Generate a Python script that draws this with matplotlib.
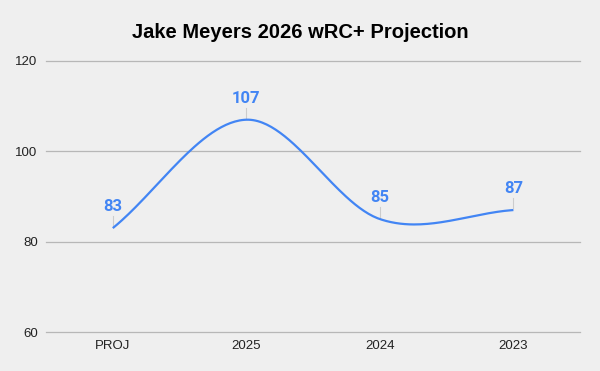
import numpy as np
import matplotlib
matplotlib.use("Agg")
import matplotlib.pyplot as plt

# chart data
seasons = ["PROJ", "2025", "2024", "2023"]
wrc_plus = [83, 107, 85, 87]

bg = "#efefef"
blue = "#4285f4"

fig = plt.figure(figsize=(6, 3.71), dpi=100, facecolor=bg)
ax = fig.add_axes([0.0767, 0.1051, 0.8903, 0.7305], facecolor=bg)

# smooth curve through the points (Catmull-Rom, like the sheets "smooth" option)
x = np.arange(len(wrc_plus), dtype=float)
y = np.array(wrc_plus, dtype=float)
n = len(y)
tang = np.zeros(n)
for i in range(n):
    if i == 0:
        tang[i] = y[1] - y[0]
    elif i == n - 1:
        tang[i] = y[-1] - y[-2]
    else:
        tang[i] = (y[i + 1] - y[i - 1]) / 2
xs, ys = [], []
for i in range(n - 1):
    t = np.linspace(0, 1, 60)
    h00 = 2 * t**3 - 3 * t**2 + 1
    h10 = t**3 - 2 * t**2 + t
    h01 = -2 * t**3 + 3 * t**2
    h11 = t**3 - t**2
    xs.append(x[i] + t)
    ys.append(h00 * y[i] + h10 * tang[i] + h01 * y[i + 1] + h11 * tang[i + 1])
ax.plot(np.concatenate(xs), np.concatenate(ys), color=blue, lw=1.6,
        solid_capstyle="butt", zorder=3)

# data labels with short leader lines
for xi, yi in zip(x, y):
    ax.plot([xi, xi], [yi + 0.4, yi + 2.6], color="#cccccc", lw=0.8, zorder=2)
    ax.annotate(f"{int(yi)}", (xi, yi), xytext=(0, 10), textcoords="offset points",
                ha="center", va="bottom", color=blue, fontsize=12,
                fontweight="bold", family="Roboto")

ax.set_xlim(-0.5, 3.5)
ax.set_ylim(60, 120)
ax.set_yticks([60, 80, 100, 120])
ax.set_xticks(x)
ax.set_xticklabels(seasons)
ax.grid(axis="y", color="#b7b7b7", lw=0.9)
for gl in ax.get_ygridlines():
    gl.set_clip_on(False)
ax.set_axisbelow(True)
for s in ax.spines.values():
    s.set_visible(False)
ax.tick_params(length=0, labelsize=9.5, colors="#222222", pad=6)
for lab in ax.get_xticklabels() + ax.get_yticklabels():
    lab.set_family("Liberation Sans")

fig.text(0.5, 0.912, "Jake Meyers 2026 wRC+ Projection", ha="center", va="center",
         fontsize=14.5, fontweight="bold", family="Liberation Sans", color="#000000")

fig.savefig("out.png", dpi=100, facecolor=bg)
